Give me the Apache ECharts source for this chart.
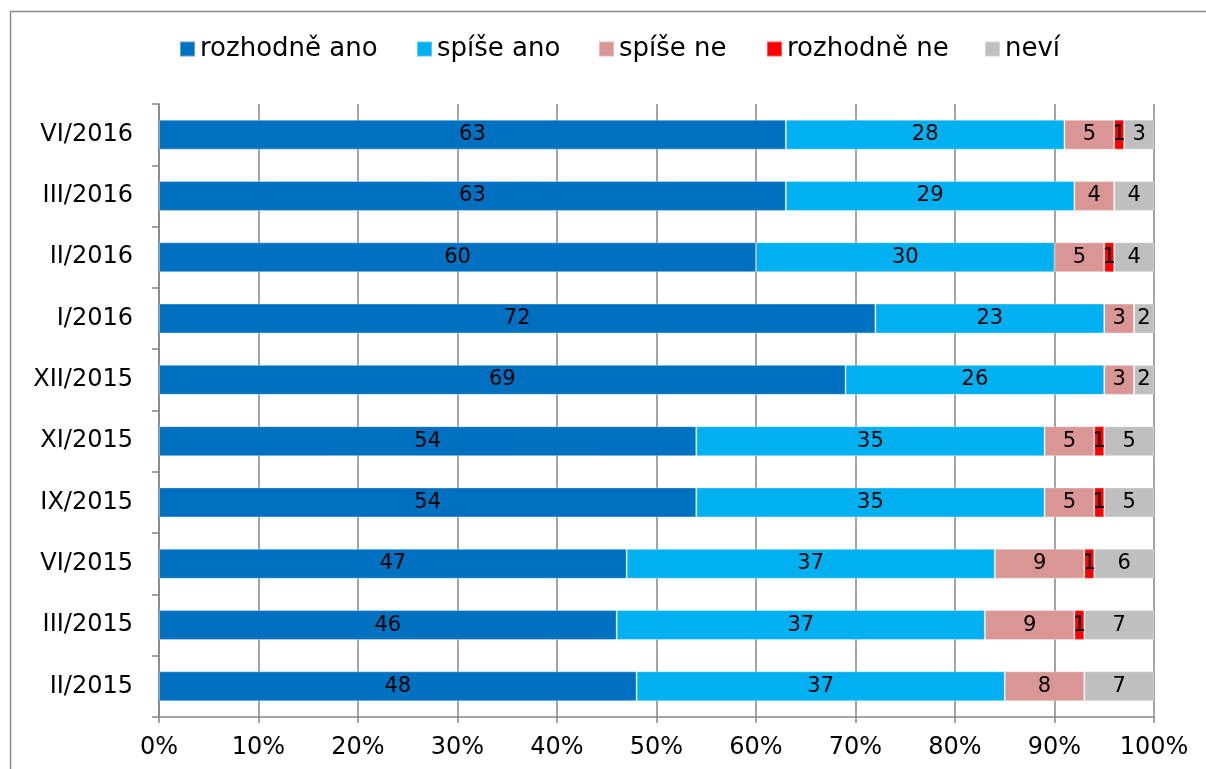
<!DOCTYPE html>
<html>
<head>
<meta charset="utf-8">
<script src="https://cdn.jsdelivr.net/npm/echarts@6/dist/echarts.min.js"></script>
<style>
  html, body { margin: 0; padding: 0; background: #fff; }
  #chart { width: 1206px; height: 769px; }
</style>
</head>
<body>
<div id="chart"></div>
<script>
// categories bottom -> top
const periods = ['II/2015', 'III/2015', 'VI/2015', 'IX/2015', 'XI/2015', 'XII/2015', 'I/2016', 'II/2016', 'III/2016', 'VI/2016'];

const rozhodneAno = [48, 46, 47, 54, 54, 69, 72, 60, 63, 63];
const spiseAno = [37, 37, 37, 35, 35, 26, 23, 30, 29, 28];
const spiseNe = [8, 9, 9, 5, 5, 3, 3, 5, 4, 5];
const rozhodneNe = [0, 1, 1, 1, 1, 0, 0, 1, 0, 1];
const nevi = [7, 7, 6, 5, 5, 2, 2, 4, 4, 3];

const seriesNames = ['rozhodně ano', 'spíše ano', 'spíše ne', 'rozhodně ne', 'neví'];
const seriesColors = ['#0070C0', '#00B0F0', '#D99694', '#FF0000', '#BFBFBF'];
const seriesData = [rozhodneAno, spiseAno, spiseNe, rozhodneNe, nevi];
const xTicks = [0, 10, 20, 30, 40, 50, 60, 70, 80, 90, 100];

const FONT = 'DejaVu Sans';
const chart = echarts.init(document.getElementById('chart'));

// Excel spaces the legend entries unevenly, so one legend per entry
const legendLefts = [179, 416, 598, 766, 984];

const option = {
  animation: false,
  backgroundColor: '#fff',
  // chart area frame, only left and top edges are visible
  graphic: [{
    type: 'polyline',
    shape: { points: [[10.5, 769], [10.5, 11.5], [1206, 11.5]] },
    style: { fill: null, stroke: '#8c8c8c', lineWidth: 1.5 },
    silent: true
  }],
  legend: seriesNames.map((name, i) => ({
    data: [name],
    left: legendLefts[i],
    top: 36,
    padding: 0,
    itemWidth: 15,
    itemHeight: 15,
    itemGap: 0,
    icon: 'rect',
    textStyle: { fontFamily: FONT, fontSize: 26, color: '#000' },
    selectedMode: false
  })),
  grid: {
    left: 159,
    right: 52,
    top: 104,
    bottom: 52
  },
  xAxis: {
    type: 'value',
    min: 0,
    max: 100,
    interval: 10,
    axisLine: { show: true, lineStyle: { color: '#868686', width: 1.5 } },
    axisTick: { show: true, length: 6, lineStyle: { color: '#868686', width: 1.5 } },
    splitLine: { show: true, lineStyle: { color: '#868686', width: 1.5 } },
    axisLabel: {
      formatter: v => xTicks.includes(v) ? v + '%' : '',
      fontFamily: FONT,
      fontSize: 24,
      color: '#000',
      margin: 19
    }
  },
  yAxis: {
    type: 'category',
    data: periods,
    axisLine: { show: true, lineStyle: { color: '#868686', width: 1.5 } },
    axisTick: { show: true, length: 7, lineStyle: { color: '#868686', width: 1.5 } },
    axisLabel: {
      fontFamily: FONT,
      fontSize: 24,
      color: '#000',
      margin: 26,
      padding: [4, 0, 0, 0]
    }
  },
  series: seriesNames.map((name, i) => ({
    name: name,
    type: 'bar',
    stack: 'total',
    barWidth: 30,
    data: seriesData[i],
    itemStyle: {
      color: seriesColors[i],
      borderColor: 'rgba(255,255,255,0.35)',
      borderWidth: 1
    },
    label: {
      show: true,
      position: 'inside',
      color: '#000',
      fontFamily: FONT,
      fontSize: 21,
      padding: [4, 0, 0, 0],
      formatter: p => p.value ? String(p.value) : ''
    }
  }))
};

chart.setOption(option);
</script>
</body>
</html>
